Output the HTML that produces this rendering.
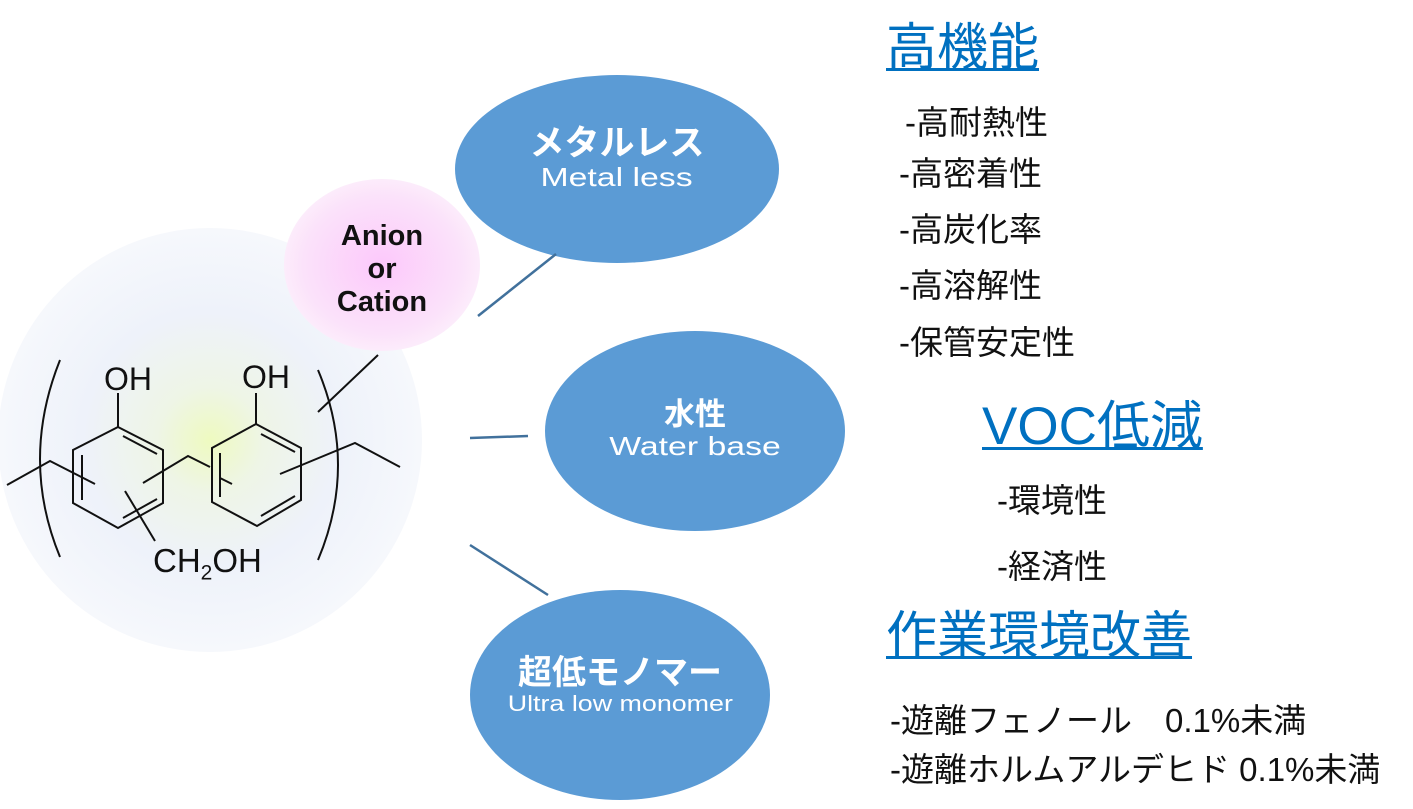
<!DOCTYPE html>
<html><head><meta charset="utf-8"><style>
body{margin:0;width:1413px;height:809px;background:#fff;position:relative;overflow:hidden;font-family:"Liberation Sans","Noto Sans CJK JP",sans-serif}
.t{position:absolute;white-space:nowrap;line-height:1}
.h{color:#0070C0;font-size:51px;text-decoration:underline;text-decoration-thickness:3px;text-underline-offset:3px}
.l{color:#111;font-size:33px}
.e{position:absolute;color:#fff;text-align:center;line-height:1}
.s{display:inline-block;transform:scaleX(1.3)}
</style></head><body>
<svg width="1413" height="809" style="position:absolute;left:0;top:0">
<defs>
<radialGradient id="g1" cx="0.5" cy="0.5" r="0.5">
<stop offset="0" stop-color="#eefac0"/><stop offset="0.25" stop-color="#eef5e6"/><stop offset="0.6" stop-color="#eef2fa"/><stop offset="1" stop-color="#f6f8fc"/>
</radialGradient>
<radialGradient id="g2" cx="0.5" cy="0.5" r="0.5">
<stop offset="0" stop-color="#fcc8fb"/><stop offset="0.8" stop-color="#fbe2fa"/><stop offset="1" stop-color="#fcecfb"/>
</radialGradient>
</defs>
<circle cx="210" cy="440" r="212" fill="url(#g1)"/>
<ellipse cx="382" cy="265" rx="98" ry="86" fill="url(#g2)"/>
<ellipse cx="617" cy="169" rx="162" ry="94" fill="#5b9bd5"/>
<ellipse cx="695" cy="431" rx="150" ry="100" fill="#5b9bd5"/>
<ellipse cx="620" cy="695" rx="150" ry="105" fill="#5b9bd5"/>
<g stroke="#41719c" stroke-width="2.5">
<line x1="478" y1="316" x2="556" y2="254"/>
<line x1="470" y1="438" x2="528" y2="436"/>
<line x1="470" y1="545" x2="548" y2="595"/>
</g>
<g stroke="#111" stroke-width="2" fill="none">
<path d="M60 360 Q20 460 60 557"/>
<path d="M318 370 Q358 465 318 560"/>
<polygon points="118,427 163,450 163,503 118,528 73,503 73,450"/>
<line x1="123" y1="436" x2="157" y2="454"/>
<line x1="157" y1="499" x2="123" y2="518"/>
<line x1="82" y1="455" x2="82" y2="500"/>
<line x1="118" y1="427" x2="118" y2="393"/>
<polygon points="256,424 301,448 301,500 257,526 212,502 212,448"/>
<line x1="261" y1="434" x2="295" y2="452"/>
<line x1="295" y1="496" x2="261" y2="516"/>
<line x1="220" y1="453" x2="220" y2="497"/>
<line x1="256" y1="424" x2="256" y2="393"/>
<polyline points="143,483 188,456 210,467"/>
<line x1="220" y1="478" x2="232" y2="484"/>
<polyline points="7,485 50,461 95,484"/>
<line x1="125" y1="491" x2="155" y2="541"/>
<polyline points="280,474 355,443 400,467"/>
<line x1="318" y1="412" x2="378" y2="355"/>
</g>
</svg>
<div class="t" style="left:104px;top:363px;font-size:32px;color:#111">OH</div>
<div class="t" style="left:242px;top:361px;font-size:32px;color:#111">OH</div>
<div class="t" style="left:153px;top:544px;font-size:33px;color:#111">CH<sub style="font-size:21px">2</sub>OH</div>
<div class="t" style="left:317px;top:220px;width:130px;text-align:center;font-size:29px;font-weight:bold;line-height:33px;color:#111">Anion<br>or<br>Cation</div>
<div class="e" style="left:455px;top:126px;width:324px"><div style="font-size:35px;font-weight:bold">メタルレス</div><div style="font-size:26px;margin-top:3px"><span class="s">Metal less</span></div></div>
<div class="e" style="left:545px;top:399px;width:300px"><div style="font-size:31px;font-weight:bold">水性</div><div style="font-size:26px;margin-top:3px"><span class="s">Water base</span></div></div>
<div class="e" style="left:470px;top:656px;width:300px"><div style="font-size:34px;font-weight:bold">超低モノマー</div><div style="font-size:22px;margin-top:3px"><span class="s" style="transform:scaleX(1.22)">Ultra low monomer</span></div></div>
<div class="t h" style="left:886px;top:22px">高機能</div>
<div class="t l" style="left:905px;top:106px">-高耐熱性</div>
<div class="t l" style="left:899px;top:157px">-高密着性</div>
<div class="t l" style="left:899px;top:213px">-高炭化率</div>
<div class="t l" style="left:899px;top:269px">-高溶解性</div>
<div class="t l" style="left:899px;top:326px">-保管安定性</div>
<div class="t h" style="left:982px;top:400px;font-size:53px">VOC低減</div>
<div class="t l" style="left:997px;top:484px">-環境性</div>
<div class="t l" style="left:997px;top:550px">-経済性</div>
<div class="t h" style="left:886px;top:610px">作業環境改善</div>
<div class="t l" style="left:890px;top:704px">-遊離フェノール　0.1%未満</div>
<div class="t l" style="left:890px;top:753px">-遊離ホルムアルデヒド 0.1%未満</div>
</body></html>
